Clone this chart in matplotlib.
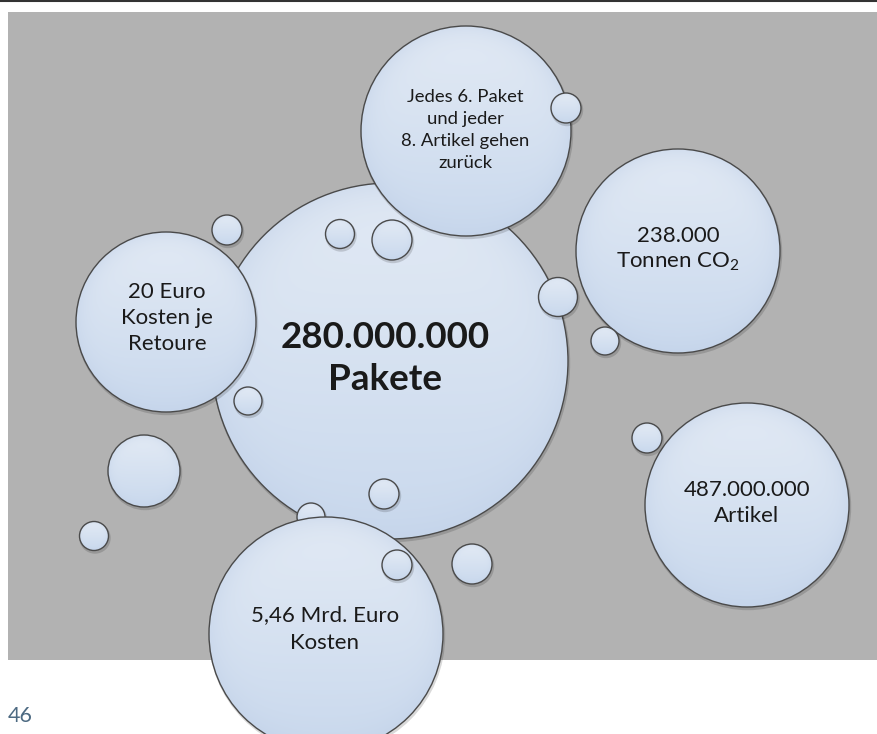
import numpy as np
import matplotlib
matplotlib.use("Agg")
import matplotlib.pyplot as plt
from matplotlib.patches import Circle, Rectangle

W, H = 878, 734

# texts of the five info bubbles and the centre bubble
main_label = ["280.000.000", "Pakete"]
info_labels = [
    ["Jedes 6. Paket", "und jeder", "8. Artikel gehen", "zurück"],
    ["20 Euro", "Kosten je", "Retoure"],
    ["238.000", r"Tonnen CO$_\mathregular{2}$"],
    ["487.000.000", "Artikel"],
    ["5,46 Mrd. Euro", "Kosten"],
]
page_number = "46"

# layout (pixel coordinates, y downwards)
main_circle = (390, 361, 178)
info_circles = [(466, 131, 105), (166, 322, 90), (678, 251, 102),
                (747, 505, 102), (326, 634, 117)]
info_line_gap = [22, 25.5, 26, 27, 28]
small_behind = [(311, 517, 14)]
small_bubbles = [(227, 230, 15), (340, 234, 14.5), (392, 240, 20),
                 (558, 297, 19.5), (248, 401, 14), (384, 494, 15),
                 (566, 108, 15), (605, 341, 14), (647, 438, 15),
                 (144, 471, 36), (94, 536, 14.5), (397, 565, 15),
                 (472, 564, 20)]

TOP = np.array([0.89, 0.92, 0.96])
BOTTOM = np.array([0.79, 0.85, 0.93])
EDGE = np.array([0.76, 0.82, 0.91])

plt.rcParams["mathtext.fontset"] = "custom"
plt.rcParams["mathtext.rm"] = "Lato"


def draw_bubble(ax, cx, cy, r, z):
    ax.add_patch(Circle((cx + 1, cy + 2), r + 1.2, facecolor="black",
                        alpha=0.15, lw=0, zorder=z))
    n = 200
    yy, xx = np.mgrid[-1:1:n * 1j, -1:1:n * 1j]
    rr = np.clip(np.sqrt(xx ** 2 + yy ** 2), 0, 1)
    t = ((yy + 1) / 2)[..., None]
    img = TOP * (1 - t) + BOTTOM * t
    e = (rr ** 8)[..., None] * 0.5
    img = img * (1 - e) + EDGE * e
    im = ax.imshow(img, extent=(cx - r, cx + r, cy + r, cy - r),
                   origin="upper", zorder=z + 0.1, interpolation="bilinear")
    clip = Circle((cx, cy), r, transform=ax.transData)
    im.set_clip_path(clip)
    ax.add_patch(Circle((cx, cy), r, facecolor="none", edgecolor="#4a4a4a",
                        lw=1.0, zorder=z + 0.2))


fig = plt.figure(figsize=(W / 100, H / 100), dpi=100)
ax = fig.add_axes([0, 0, 1, 1])
ax.set_xlim(0, W)
ax.set_ylim(H, 0)
ax.axis("off")

ax.plot([0, W], [0.8, 0.8], color="#333333", lw=1.5, zorder=1)
ax.add_patch(Rectangle((8, 12), W - 8, 648, facecolor="#b2b2b2", lw=0, zorder=0))

draw_bubble(ax, *main_circle, z=2)
for cx, cy, r in small_behind:
    draw_bubble(ax, cx, cy, r, z=3)
for cx, cy, r in info_circles:
    draw_bubble(ax, cx, cy, r, z=4)
for cx, cy, r in small_bubbles:
    draw_bubble(ax, cx, cy, r, z=6)

font = ["Lato", "DejaVu Sans"]
ax.text(385, 337, main_label[0], ha="center", va="center", fontsize=26.5,
        fontweight="bold", family=font, color="#1a1a1a", zorder=10)
ax.text(385, 380, main_label[1], ha="center", va="center", fontsize=26.5,
        fontweight="bold", family=font, color="#1a1a1a", zorder=10)

text_centers = [(465, 130), (167, 318), (678, 249), (747, 503), (325, 629)]
sizes = [13.3, 16, 16, 16, 16]
for lines, (tx, ty), gap, fs in zip(info_labels, text_centers, info_line_gap, sizes):
    n = len(lines)
    for i, line in enumerate(lines):
        y = ty + (i - (n - 1) / 2) * gap
        ax.text(tx, y, line, ha="center", va="center", fontsize=fs,
                family=font, color="#1a1a1a", zorder=10)

ax.text(8, 716, page_number, ha="left", va="center", fontsize=15.5,
        family=font, color="#4d6a82")

fig.savefig("out.png", dpi=100)
